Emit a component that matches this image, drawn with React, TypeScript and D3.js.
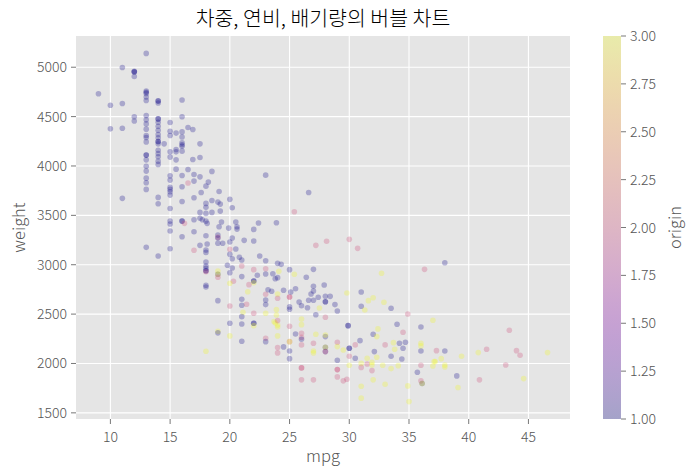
import React from "react";
import * as d3 from "d3";

// mpg, weight, origin
const mpg: number[] = [
  13, 11, 12, 12, 12, 12, 9, 10, 11, 13, 13, 13, 13, 13, 14, 14, 14, 16, 16, 12, 12, 10, 11,
  13, 13, 13, 13, 13, 13, 13, 13, 13, 13,
  14, 14, 14, 14, 14, 14, 14, 14, 14, 14, 14, 14, 14,
  15, 15, 15, 15.5, 16, 16, 16.5, 16.9, 14.5, 16, 16, 16, 15.5, 15.5, 16, 15, 15, 17.5, 15.5, 16.9, 17.5,
  13, 13, 13, 13, 13, 14, 14, 15.5, 15, 15, 15, 15, 15, 15, 16, 16.5, 17, 17, 16.5, 17.5, 16, 18.5, 18.2, 18, 17.6, 19.1,
  11, 14, 14, 16, 17, 18, 18, 18.5, 19, 19.2, 20, 20.2, 18.5, 19.2, 17.5, 15, 18, 17.5, 17.7, 18, 17, 16, 16, 16.2,
  15, 15, 15, 19.3, 18.1, 17, 16, 19.1, 19.9, 20.5, 20.6, 20.6, 18, 19, 19, 19, 19, 19.4, 20.2, 20, 21.2, 18.1, 17.5, 17,
  18, 18, 20, 20.5, 20, 20.2, 20.8, 21, 13, 15, 14,
  18, 18, 18, 18, 18, 18, 19, 19, 19, 19, 19.8, 20, 20.2, 21, 21, 20.3, 20, 18, 18,
  19, 21, 21, 20, 21.4, 21.1, 21, 20, 21, 19, 19, 20, 21, 18,
  23, 26.6, 25.4, 22.4, 23.9, 22, 22, 27.2, 28.1, 30, 30.7, 22.5, 23, 24, 24.3, 22, 23, 24.1, 25, 27, 25.4, 22.3, 23, 23.6,
  23.8, 24, 22, 22, 22, 26.4, 21.6, 32.7,
  21.5, 23.2, 23.5, 24.5, 25.5, 24, 24, 23, 25, 25, 25.1, 26.8, 27, 27, 27.9, 23, 23, 25, 25, 25.8, 26, 26.6, 27, 26.5, 27.4,
  28, 28, 28, 28.4, 28.8, 29, 27.5, 29.8, 31, 31, 31.3, 31.6, 32, 32.9, 33.5, 28, 22, 23, 23.9, 23.9, 22, 22, 22, 23.7, 23.8,
  24, 24, 24, 25, 26, 26, 27.2, 29.9, 29.9, 23, 23, 24, 24, 24, 24.5, 25, 25, 25, 25, 25.5, 26, 26, 26, 26, 26, 26, 26,
  27, 27, 27, 27, 27.2, 28, 28, 28, 28, 28, 28, 29, 29, 29, 29, 29, 29, 29.5, 29.8, 29.5, 30, 30, 30, 30, 30.5, 30.5, 30.9,
  31, 31, 31.5, 31.5, 31, 31, 31.9, 31.9, 31.9, 32, 32.1, 32, 32.3, 32.4, 32.3, 32.8, 33, 33, 33.5, 33.5, 33.7, 33.8, 34,
  34.1, 34.2, 34.4, 34.5, 34.5, 34.7, 34.9, 34.9, 35,
  37, 36, 36, 36, 36, 37.3, 38, 39.4, 37.7, 37.1, 37.2, 38, 38, 37, 36, 35.7, 39, 36, 36.1, 36.1, 39.1, 40.8, 41.5, 40.9,
  43.4, 44, 44.3, 43.1, 44.6, 46.6, 38, 36.3,
];

const weight: number[] = [
  5140, 4997, 4951, 4955, 4960, 4906, 4732, 4615, 4633, 4735, 4746, 4760, 4699, 4663, 4638, 4657, 4660, 4668, 4498, 4499, 4456, 4376, 4382,
  4511, 4467, 4426, 4373, 4309, 4289, 4244, 4110, 4110, 4062,
  4477, 4477, 4443, 4403, 4362, 4319, 4285, 4248, 4248, 4224, 4160, 4126, 4093,
  4440, 4352, 4309, 4333, 4345, 4294, 4390, 4370, 4224, 4234, 4215, 4200, 4167, 4143, 4150, 4143, 4090, 4224, 4062, 4066, 4086,
  3998, 3948, 3877, 3830, 3763, 4049, 4016, 3968, 3900, 3857, 3783, 3763, 3739, 3705, 3904, 3965, 3914, 3847, 3827, 3890, 3789, 3945, 3837, 3796, 3732, 3742,
  3672, 3682, 3617, 3641, 3678, 3621, 3581, 3651, 3634, 3614, 3662, 3577, 3530, 3543, 3530, 3570, 3520, 3470, 3455, 3442, 3455, 3442, 3442, 3419,
  3442, 3412, 3341, 3432, 3419, 3334, 3284, 3385, 3371, 3432, 3385, 3361, 3294, 3300, 3277, 3270, 3217, 3217, 3270, 3230, 3247, 3210, 3196, 3146,
  3149, 3125, 3156, 3159, 3105, 3061, 3075, 3048, 3176, 3162, 3088,
  3027, 2987, 2964, 2939, 2939, 2929, 2936, 2903, 2903, 2873, 2994, 2919, 2967, 2987, 2880, 2832, 2812, 2792, 2775,
  2636, 2650, 2590, 2582, 2600, 2519, 2474, 2407, 2400, 2326, 2310, 2279, 2225, 2124,
  3907, 3732, 3537, 3422, 3425, 3358, 3240, 3196, 3237, 3257, 3166, 3088, 3041, 3014, 3004, 2950, 2960, 2933, 2950, 2953, 2903, 2893, 2906, 2909,
  2858, 2869, 2835, 2835, 2818, 2873, 2798, 2913,
  2727, 2747, 2731, 2741, 2757, 2704, 2660, 2700, 2673, 2673, 2724, 2704, 2734, 2782, 2795, 2643, 2596, 2573, 2549, 2623, 2585, 2640, 2640, 2565, 2670,
  2680, 2625, 2625, 2680, 2596, 2532, 2562, 2714, 2724, 2580, 2542, 2636, 2666, 2620, 2559, 2468, 2508, 2508, 2545, 2491, 2407, 2407, 2383, 2424, 2410,
  2390, 2434, 2370, 2377, 2451, 2393, 2494, 2383, 2383, 2256, 2221, 2279, 2161, 2107, 2168, 2127, 2049, 2221, 2221, 2299, 2306, 2266, 2245, 2188, 1955, 1955, 1834,
  2205, 2127, 2107, 1834, 2296, 2272, 2165, 2165, 2120, 2120, 2289, 2215, 2171, 2033, 1938, 1938, 1864, 1824, 1841, 2137, 2154, 2154, 2073, 1982, 2188, 2053, 2231,
  2001, 1960, 1995, 2053, 1770, 1649, 2013, 1985, 1928, 1834, 2120, 2296, 2272, 2350, 2063, 1982, 2188, 1790, 2073, 1948, 2211, 2144, 2397,
  1978, 2205, 2046, 2316, 2154, 2215, 2501, 1773, 1614,
  2438, 2370, 2205, 2178, 2127, 2130, 2127, 2073, 2049, 2019, 2019, 1985, 1965, 1975, 1982, 1911, 1874, 1824, 1797, 1797, 1756, 2110, 2144, 1834,
  2337, 2130, 2084, 1985, 1847, 2110, 3020, 2953,
];

const origin: number[] = [
  1, 1, 1, 1, 1, 1, 1, 1, 1, 1, 1, 1, 1, 1, 1, 1, 1, 1, 1, 1, 1, 1, 1,
  1, 1, 1, 1, 1, 1, 1, 1, 1, 1,
  1, 1, 1, 1, 1, 1, 1, 1, 1, 1, 1, 1, 1,
  1, 1, 1, 1, 1, 1, 1, 1, 1, 1, 1, 1, 1, 1, 1, 1, 1, 1, 1, 1, 1,
  1, 1, 1, 1, 1, 1, 1, 1, 1, 1, 1, 1, 1, 1, 1, 1, 1, 1, 2, 1, 1, 1, 1, 1, 1, 1,
  1, 1, 1, 1, 1, 1, 1, 1, 1, 1, 1, 1, 1, 1, 1, 1, 1, 1, 1, 1, 1, 1, 1, 2,
  1, 1, 1, 1, 1, 1, 1, 1, 1, 1, 1, 1, 1, 1, 2, 1, 1, 1, 1, 1, 1, 1, 1, 2,
  1, 1, 2, 1, 1, 1, 1, 1, 1, 1, 1,
  1, 1, 1, 1, 1, 2, 3, 1, 3, 2, 1, 1, 1, 2, 1, 2, 3, 1, 1,
  1, 1, 1, 2, 2, 3, 1, 1, 1, 3, 1, 3, 1, 3,
  1, 1, 2, 1, 1, 1, 1, 2, 2, 2, 2, 1, 1, 1, 1, 2, 2, 3, 1, 1, 3, 1, 1, 1,
  1, 1, 1, 1, 3, 1, 2, 3,
  3, 1, 1, 1, 1, 3, 2, 2, 2, 2, 1, 1, 1, 1, 1, 1, 1, 1, 1, 1, 1, 1, 1, 1, 1,
  1, 1, 1, 1, 1, 1, 3, 3, 1, 1, 3, 3, 3, 3, 1, 2, 2, 3, 3, 3, 1, 1, 3, 3, 3,
  3, 2, 3, 2, 3, 3, 1, 1, 1, 2, 1, 3, 2, 2, 1, 1, 1, 2, 3, 1, 2, 2, 1, 2, 2, 2, 2,
  2, 3, 3, 2, 3, 1, 1, 3, 1, 2, 3, 2, 3, 1, 2, 2, 2, 2, 2, 3, 1, 1, 2, 3, 2, 1, 1,
  3, 2, 2, 3, 3, 3, 3, 3, 2, 3, 1, 1, 3, 3, 3, 3, 2, 3, 1, 3, 3, 3, 1,
  3, 1, 1, 2, 1, 1, 2, 3, 3,
  3, 1, 3, 3, 1, 2, 1, 3, 3, 3, 3, 3, 3, 3, 2, 1, 1, 2, 1, 3, 3, 3, 2, 2,
  2, 2, 2, 2, 3, 3, 1, 2,
];

const xTicks: number[] = [10, 15, 20, 25, 30, 35, 40, 45];
const yTicks: number[] = [1500, 2000, 2500, 3000, 3500, 4000, 4500, 5000];
const cTicks: number[] = [1.0, 1.25, 1.5, 1.75, 2.0, 2.25, 2.5, 2.75, 3.0];

const TITLE = "차중, 연비, 배기량의 버블 차트";
const XLABEL = "mpg";
const YLABEL = "weight";
const CLABEL = "origin";

export default function App() {
  const W = 692, H = 474;
  const L = 76, R = 570, T = 36, B = 419;
  const cbL = 603, cbR = 621;
  const font = "'Noto Sans CJK KR', 'Noto Sans', sans-serif";
  const tickColor = "#555555";
  const fw = 300;

  const n = Math.min(mpg.length, weight.length, origin.length);
  const xExt = d3.extent(mpg.slice(0, n)) as [number, number];
  const yExt = d3.extent(weight.slice(0, n)) as [number, number];
  const xPad = (xExt[1] - xExt[0]) * 0.05;
  const yPad = (yExt[1] - yExt[0]) * 0.05;
  const x = d3.scaleLinear().domain([xExt[0] - xPad, xExt[1] + xPad]).range([L, R]);
  const y = d3.scaleLinear().domain([yExt[0] - yPad, yExt[1] + yPad]).range([B, T]);
  const c = d3.scaleSequential(d3.interpolatePlasma).domain([1, 3]);
  const cy = d3.scaleLinear().domain([1, 3]).range([B, T]);

  const pts = d3.range(n).map((i) => ({ x: mpg[i], y: weight[i], o: origin[i] }));
  const stops = d3.range(0, 1.0001, 0.05);

  return (
    <svg width={W} height={H} style={{ display: "block", position: "absolute", left: 0, top: 0 }} fontFamily={font} fontWeight={fw}>
      <defs>
        <linearGradient id="cb" x1="0" y1="1" x2="0" y2="0">
          {stops.map((t) => (
            <stop key={t} offset={t} stopColor={d3.interpolatePlasma(t)} stopOpacity={0.3} />
          ))}
        </linearGradient>
      </defs>
      <rect x={0} y={0} width={W} height={H} fill="#ffffff" />
      <rect x={L} y={T} width={R - L} height={B - T} fill="#E5E5E5" />
      {xTicks.map((t) => (
        <line key={"gx" + t} x1={x(t)} x2={x(t)} y1={T} y2={B} stroke="#ffffff" strokeWidth={1.1} />
      ))}
      {yTicks.map((t) => (
        <line key={"gy" + t} x1={L} x2={R} y1={y(t)} y2={y(t)} stroke="#ffffff" strokeWidth={1.1} />
      ))}
      {pts.map((p, i) => (
        <circle key={i} cx={x(p.x)} cy={y(p.y)} r={2.8} fill={c(p.o)} fillOpacity={0.28} />
      ))}
      {xTicks.map((t) => (
        <g key={"tx" + t}>
          <line x1={x(t)} x2={x(t)} y1={B} y2={B + 5} stroke={tickColor} strokeWidth={0.8} />
          <text x={x(t)} y={B + 23} textAnchor="middle" fontSize={14} fill={tickColor}>{t}</text>
        </g>
      ))}
      {yTicks.map((t) => (
        <g key={"ty" + t}>
          <line x1={L - 5} x2={L} y1={y(t)} y2={y(t)} stroke={tickColor} strokeWidth={0.8} />
          <text x={L - 9} y={y(t) + 5} textAnchor="end" fontSize={14} fill={tickColor}>{t}</text>
        </g>
      ))}
      <text x={(L + R) / 2} y={462} textAnchor="middle" fontSize={16.5} fill={tickColor}>{XLABEL}</text>
      <text transform={`translate(25,${(T + B) / 2}) rotate(-90)`} textAnchor="middle" fontSize={16.5} fill={tickColor}>{YLABEL}</text>
      <text x={(L + R) / 2} y={26} textAnchor="middle" fontSize={20.5} fill="#000000">{TITLE}</text>
      <rect x={cbL} y={T} width={cbR - cbL} height={B - T} fill="#E5E5E5" />
      <rect x={cbL} y={T} width={cbR - cbL} height={B - T} fill="url(#cb)" />
      {cTicks.map((t) => (
        <g key={"tc" + t}>
          <line x1={cbR} x2={cbR + 5} y1={cy(t)} y2={cy(t)} stroke={tickColor} strokeWidth={0.8} />
          <text x={cbR + 9} y={cy(t) + 5} textAnchor="start" fontSize={14} fill={tickColor}>{t.toFixed(2)}</text>
        </g>
      ))}
      <text transform={`translate(681,${(T + B) / 2}) rotate(-90)`} textAnchor="middle" fontSize={16.5} fill={tickColor}>{CLABEL}</text>
    </svg>
  );
}
